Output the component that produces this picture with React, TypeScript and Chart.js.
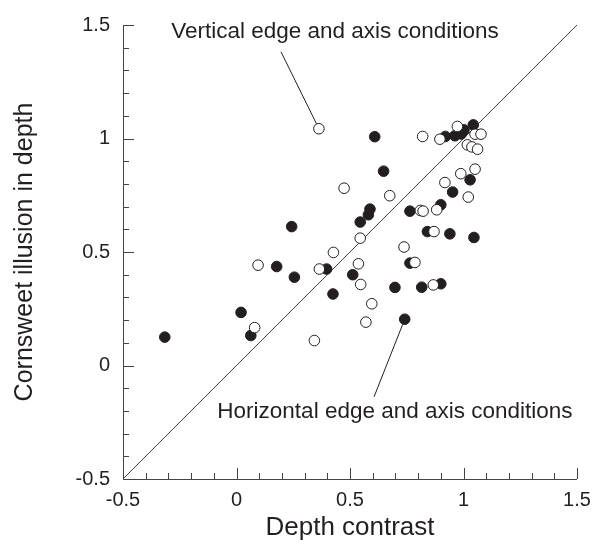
import React, { useEffect, useRef } from "react";
import { Chart, registerables } from "chart.js";

Chart.register(...registerables);

// Horizontal edge and axis conditions (filled)
const filledX = [-0.316, 0.02, 0.063, 0.177, 0.243, 0.255, 0.397, 0.425, 0.512, 0.545, 0.581, 0.588, 0.609, 0.648, 0.698, 0.741, 0.764, 0.764, 0.816, 0.841, 0.9, 0.9, 0.92, 0.94, 0.952, 0.962, 0.99, 1.002, 1.029, 1.043, 1.046];
const filledY = [0.125, 0.234, 0.132, 0.436, 0.612, 0.389, 0.425, 0.315, 0.4, 0.632, 0.664, 0.689, 1.008, 0.856, 0.344, 0.204, 0.68, 0.451, 0.345, 0.59, 0.708, 0.36, 1.009, 0.58, 0.764, 1.012, 1.02, 1.038, 0.818, 1.06, 0.564];

// Vertical edge and axis conditions (open)
const openX = [0.08, 0.095, 0.343, 0.363, 0.365, 0.427, 0.474, 0.537, 0.545, 0.547, 0.57, 0.596, 0.675, 0.738, 0.786, 0.81, 0.822, 0.82, 0.867, 0.87, 0.882, 0.896, 0.918, 0.973, 0.988, 1.017, 1.021, 1.037, 1.051, 1.051, 1.062, 1.077];
const openY = [0.167, 0.442, 0.11, 1.043, 0.425, 0.498, 0.781, 0.448, 0.561, 0.357, 0.191, 0.272, 0.748, 0.522, 0.454, 0.683, 0.68, 1.009, 0.355, 0.59, 0.686, 0.997, 0.806, 1.053, 0.845, 0.972, 0.742, 0.963, 1.019, 0.865, 0.953, 1.019];

const axisMin = -0.5;
const axisMax = 1.5;
const majorStep = 0.5;
const minorStep = 0.1;

const xTitle = "Depth contrast";
const yTitle = "Cornsweet illusion in depth";

// annotations: label anchor (data coords), leader start (data coords), target point
const annotations = [
  { text: "Vertical edge and axis conditions", lx: 0.434, ly: 1.468, sx: 0.196, sy: 1.382, px: 0.363, py: 1.043 },
  { text: "Horizontal edge and axis conditions", lx: 0.698, ly: -0.203, sx: 0.606, sy: -0.138, px: 0.741, py: 0.204 },
];

const FONT = "'Liberation Sans', Arial, Helvetica, sans-serif";
const INK = "#231f20";

const axesPlugin = {
  id: "customAxes",
  beforeDatasetsDraw(chart: any) {
    const { ctx, chartArea } = chart;
    const xs = chart.scales.x;
    const ys = chart.scales.y;
    ctx.save();
    ctx.strokeStyle = "#444";
    ctx.lineWidth = 1;
    ctx.beginPath();
    ctx.moveTo(chartArea.left + 0.5, chartArea.top);
    ctx.lineTo(chartArea.left + 0.5, chartArea.bottom + 0.5);
    ctx.lineTo(chartArea.right, chartArea.bottom + 0.5);
    ctx.stroke();
    const n = Math.round((axisMax - axisMin) / minorStep);
    ctx.beginPath();
    for (let i = 0; i <= n; i++) {
      const v = axisMin + i * minorStep;
      const major = i % Math.round(majorStep / minorStep) === 0;
      const len = major ? 11 : 6;
      const px = Math.round(xs.getPixelForValue(v)) + 0.5;
      ctx.moveTo(px, chartArea.bottom);
      ctx.lineTo(px, chartArea.bottom - len);
      const py = Math.round(ys.getPixelForValue(v)) + 0.5;
      ctx.moveTo(chartArea.left, py);
      ctx.lineTo(chartArea.left + len, py);
    }
    ctx.stroke();
    ctx.restore();
  },
  afterDatasetsDraw(chart: any) {
    const { ctx } = chart;
    const xs = chart.scales.x;
    const ys = chart.scales.y;
    ctx.save();
    ctx.strokeStyle = INK;
    ctx.fillStyle = INK;
    ctx.lineWidth = 1;
    ctx.font = `22.5px ${FONT}`;
    ctx.textAlign = "center";
    ctx.textBaseline = "middle";
    for (const a of annotations) {
      ctx.fillText(a.text, xs.getPixelForValue(a.lx), ys.getPixelForValue(a.ly));
      const x0 = xs.getPixelForValue(a.sx);
      const y0 = ys.getPixelForValue(a.sy);
      const x1 = xs.getPixelForValue(a.px);
      const y1 = ys.getPixelForValue(a.py);
      const d = Math.hypot(x1 - x0, y1 - y0);
      const r = 5.5;
      ctx.beginPath();
      ctx.moveTo(x0, y0);
      ctx.lineTo(x1 - ((x1 - x0) / d) * r, y1 - ((y1 - y0) / d) * r);
      ctx.stroke();
    }
    ctx.restore();
  },
};

const fmt = (v: any) => String(Number(Number(v).toFixed(1)));

export default function App() {
  const ref = useRef<HTMLCanvasElement>(null);
  useEffect(() => {
    if (!ref.current) return;
    const chart = new Chart(ref.current, {
      type: "scatter",
      data: {
        datasets: [
          {
            label: "Vertical",
            data: openX.map((x, i) => ({ x, y: openY[i] })),
            backgroundColor: "#ffffff",
            borderColor: INK,
            borderWidth: 1,
            pointRadius: 5.3,
            order: 1,
          },
          {
            label: "Horizontal",
            data: filledX.map((x, i) => ({ x, y: filledY[i] })),
            backgroundColor: INK,
            borderColor: INK,
            borderWidth: 1,
            pointRadius: 5.3,
            order: 2,
          },
          {
            type: "line",
            label: "Identity",
            data: [
              { x: axisMin, y: axisMin },
              { x: axisMax, y: axisMax },
            ],
            borderColor: "#444",
            borderWidth: 1,
            pointRadius: 0,
            showLine: true,
            fill: false,
            order: 3,
          } as any,
        ],
      },
      options: {
        animation: false,
        responsive: true,
        maintainAspectRatio: false,
        layout: { padding: { left: 0, top: 25, right: 16, bottom: 0 } },
        plugins: { legend: { display: false }, tooltip: { enabled: false } },
        scales: {
          x: {
            type: "linear",
            min: axisMin,
            max: axisMax,
            grid: { display: false, drawTicks: false },
            border: { display: false },
            ticks: { stepSize: majorStep, padding: 9, color: INK, font: { size: 20, family: FONT }, callback: fmt },
            title: { display: true, text: xTitle, color: INK, font: { size: 26, family: FONT }, padding: { top: 0, bottom: 3 } },
            afterFit: (s: any) => { s.height = 67; s.paddingLeft = 0; s.paddingRight = 0; },
          },
          y: {
            type: "linear",
            min: axisMin,
            max: axisMax,
            grid: { display: false, drawTicks: false },
            border: { display: false },
            ticks: { stepSize: majorStep, padding: 13, color: INK, font: { size: 20, family: FONT }, callback: fmt },
            title: { display: true, text: yTitle, color: INK, font: { size: 25, family: FONT }, padding: { top: 10, bottom: 0 } },
            afterFit: (s: any) => { s.width = 123; s.paddingTop = 0; s.paddingBottom = 0; },
          },
        },
      },
      plugins: [axesPlugin],
    });
    return () => chart.destroy();
  }, []);
  return (
    <div style={{ position: "fixed", left: 0, top: 0, width: 593, height: 546, background: "#fff" }}>
      <canvas ref={ref} />
    </div>
  );
}
